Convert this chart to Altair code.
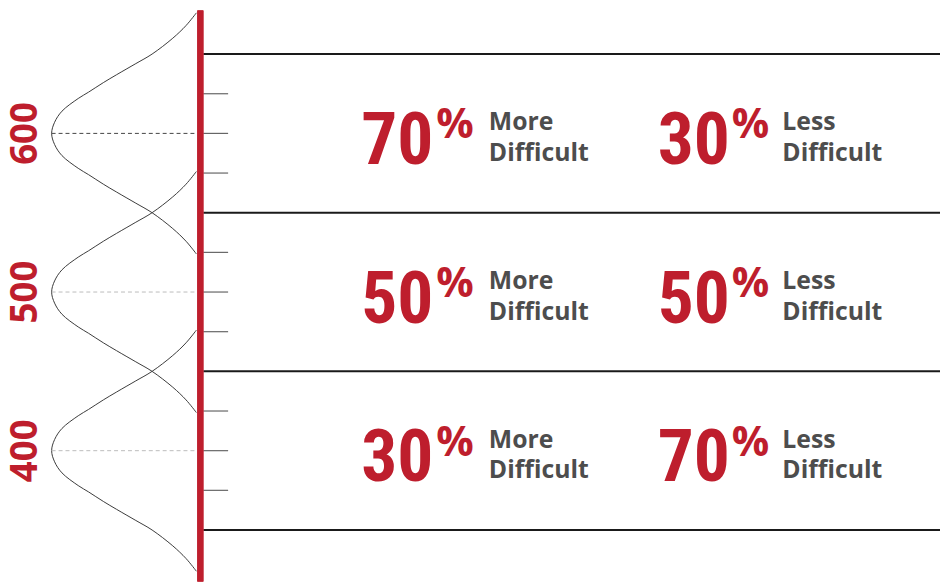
import altair as alt
import pandas as pd

# ---- data ----
row_scores = [600, 500, 400]
row_labels = ["600", "500", "400"]
more_pct = [70, 50, 30]
less_pct = [30, 50, 70]
col_word1 = ["More", "Less"]
col_word2 = ["Difficult", "Difficult"]
band_edges = [650, 550, 450, 350]
minor_ticks = [625, 600, 575, 525, 500, 475, 425, 400, 375]
# bell-curve profile: distance from mean (score points) and relative height
curve_offsets = [0, 7, 14, 22, 26, 32, 37, 44, 50, 60, 68, 76]
curve_density = [1.00, 0.98, 0.93, 0.82, 0.75, 0.65, 0.56, 0.43, 0.32, 0.18, 0.09, 0.02]

RED = "#BE1E2D"
GRAY_TXT = "#4D4D4D"
W, H = 940, 576
Y_DOMAIN = [317.5, 677.5]

ysc = alt.Scale(domain=Y_DOMAIN, nice=False, zero=False)

rows = pd.DataFrame({
    "score": row_scores,
    "label": row_labels,
    "more": [str(v) for v in more_pct],
    "less": [str(v) for v in less_pct],
})
edges = pd.DataFrame({"score": band_edges})
ticks = pd.DataFrame({"score": minor_ticks})

curve_rows = []
for m in row_scores:
    for off, d in zip(curve_offsets, curve_density):
        for sgn in ([1] if off == 0 else [1, -1]):
            curve_rows.append({"mean": m, "score": m + sgn * off, "density": d})
curves_df = pd.DataFrame(curve_rows)

base = alt.Chart(rows)

curves = alt.Chart(curves_df).mark_line(
    color="#3a3a3a", strokeWidth=1, interpolate="catmull-rom"
).encode(
    x=alt.X("density:Q", scale=alt.Scale(domain=[0, 1], range=[193, 44]), axis=None),
    y=alt.Y("score:Q", scale=ysc, axis=None),
    detail="mean:N",
    order=alt.Order("score:Q"),
)

dashes = base.mark_rule(strokeDash=[4, 3], strokeWidth=1).encode(
    x=alt.value(44), x2=alt.value(191),
    y=alt.Y("score:Q", scale=ysc, axis=None),
    color=alt.condition(alt.datum.score == 600, alt.value("#444444"), alt.value("#BBBBBB")),
)

tick_rules = alt.Chart(ticks).mark_rule(color="#666666", strokeWidth=1.2).encode(
    x=alt.value(197), x2=alt.value(222),
    y=alt.Y("score:Q", scale=ysc, axis=None),
)

edge_rules = alt.Chart(edges).mark_rule(color="#1A1A1A", strokeWidth=2).encode(
    x=alt.value(197), x2=alt.value(W),
    y=alt.Y("score:Q", scale=ysc, axis=None),
)

red_axis = base.mark_rule(color=RED, strokeWidth=6).encode(
    x=alt.value(194), y=alt.value(0), y2=alt.value(H),
)

score_text = base.mark_text(
    angle=270, align="center", baseline="alphabetic", color=RED,
    font="Open Sans", fontWeight="bold", fontSize=37,
).encode(
    x=alt.value(29), y=alt.Y("score:Q", scale=ysc, axis=None), text="label:N",
)

BIG_FONT = "'Roboto Condensed', 'Noto Sans Condensed', 'DejaVu Sans Condensed', 'Open Sans'"

def column(field, num_right, pct_left, word_left, w1, w2):
    num = base.mark_text(
        align="right", baseline="alphabetic", dy=31, color=RED,
        font=BIG_FONT, fontWeight="bold", fontSize=72,
    ).encode(x=alt.value(num_right), y=alt.Y("score:Q", scale=ysc, axis=None), text=f"{field}:N")
    pct = base.mark_text(
        align="left", baseline="alphabetic", dy=5, color=RED, text="%",
        font="Open Sans", fontWeight="bold", fontSize=42,
    ).encode(x=alt.value(pct_left), y=alt.Y("score:Q", scale=ysc, axis=None))
    word1 = base.mark_text(
        align="left", baseline="alphabetic", dy=-3, color=GRAY_TXT, text=w1,
        font="Open Sans", fontWeight="bold", fontSize=25,
    ).encode(x=alt.value(word_left), y=alt.Y("score:Q", scale=ysc, axis=None))
    word2 = base.mark_text(
        align="left", baseline="alphabetic", dy=28, color=GRAY_TXT, text=w2,
        font="Open Sans", fontWeight="bold", fontSize=25,
    ).encode(x=alt.value(word_left), y=alt.Y("score:Q", scale=ysc, axis=None))
    return [num, pct, word1, word2]

col1 = column("more", 429, 432, 485, col_word1[0], col_word2[0])
col2 = column("less", 728, 730, 781, col_word1[1], col_word2[1])

chart = alt.layer(
    curves, dashes, tick_rules, edge_rules, red_axis, score_text, *col1, *col2
).properties(
    width=W, height=H, padding=0,
    autosize=alt.AutoSizeParams(type="none"),
).configure_view(stroke=None)

chart.save("out.html", embed_options={"renderer": "svg", "actions": False})
